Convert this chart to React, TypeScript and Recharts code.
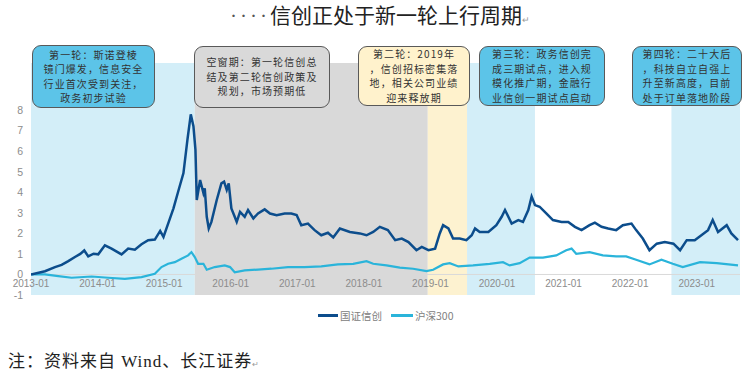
import React from 'react';
import { LineChart, Line, XAxis, YAxis, ReferenceArea, ReferenceLine } from 'recharts';

// 国证信创 (decimal year / cumulative return)
const xinDates = [
  2013.0, 2013.21, 2013.36, 2013.46, 2013.56, 2013.66, 2013.74, 2013.8, 2013.86, 2013.94,
  2014.01, 2014.11, 2014.21, 2014.36, 2014.46, 2014.56, 2014.66, 2014.76, 2014.86, 2014.94,
  2014.99, 2015.06, 2015.14, 2015.21, 2015.29, 2015.35, 2015.4, 2015.44, 2015.47, 2015.49,
  2015.54, 2015.59, 2015.61, 2015.64, 2015.67, 2015.71, 2015.79, 2015.86, 2015.9, 2015.94,
  2015.97, 2016.01, 2016.06, 2016.09, 2016.14, 2016.21, 2016.26, 2016.34, 2016.41, 2016.51,
  2016.59, 2016.69, 2016.81, 2016.91, 2016.99, 2017.06, 2017.16, 2017.26, 2017.36, 2017.46,
  2017.54, 2017.64, 2017.79, 2017.94, 2018.04, 2018.14, 2018.24, 2018.36, 2018.47, 2018.57,
  2018.67, 2018.79, 2018.87, 2018.97, 2019.07, 2019.14, 2019.19, 2019.27, 2019.34, 2019.44,
  2019.54, 2019.62, 2019.67, 2019.74, 2019.87, 2019.99, 2020.07, 2020.12, 2020.22, 2020.32,
  2020.39, 2020.47, 2020.52, 2020.57, 2020.64, 2020.74, 2020.84, 2020.97, 2021.07, 2021.17,
  2021.27, 2021.39, 2021.47, 2021.57, 2021.67, 2021.79, 2021.89, 2022.02, 2022.09, 2022.19,
  2022.29, 2022.4, 2022.52, 2022.65, 2022.75, 2022.85, 2022.97, 2023.07, 2023.17, 2023.24,
  2023.32, 2023.45, 2023.52, 2023.62,
];
const xinValues = [
  0.0, 0.16, 0.36, 0.47, 0.65, 0.85, 1.0, 1.17, 0.88, 1.01,
  0.98, 1.42, 1.26, 0.98, 1.26, 1.21, 1.47, 1.67, 1.7, 2.12,
  1.83, 2.48, 3.22, 4.03, 4.94, 6.57, 7.8, 7.22, 6.08, 3.63,
  4.6, 3.96, 4.2, 2.81, 2.24, 2.56, 3.63, 4.44, 4.52, 4.12,
  4.44, 3.22, 2.81, 2.56, 3.05, 2.81, 3.14, 2.73, 2.97, 3.17,
  2.97, 2.89, 2.97, 2.97, 2.9, 2.4, 2.48, 2.16, 1.91, 2.03,
  1.8, 2.24, 2.07, 2.0, 1.91, 2.07, 2.32, 2.16, 1.67, 1.75,
  1.58, 1.18, 1.34, 1.18, 1.26, 2.0, 2.4, 2.24, 1.75, 1.75,
  1.67, 1.91, 2.24, 2.07, 2.07, 2.4, 2.81, 3.14, 2.48, 2.65,
  2.56, 3.14, 3.79, 3.38, 3.3, 2.97, 2.65, 2.56, 2.56, 2.32,
  2.16, 2.4, 2.52, 2.32, 2.24, 2.16, 2.4, 2.48, 2.16, 1.75,
  1.18, 1.5, 1.58, 1.5, 1.18, 1.67, 1.67, 1.91, 2.16, 2.65,
  2.07, 2.4, 2.0, 1.67,
];

// 沪深300
const hsDates = [
  2013.0, 2013.21, 2013.41, 2013.61, 2013.91, 2014.16, 2014.41, 2014.66, 2014.86, 2014.96,
  2015.06, 2015.16, 2015.26, 2015.36, 2015.41, 2015.46, 2015.51, 2015.59, 2015.64, 2015.76,
  2015.91, 2015.99, 2016.06, 2016.21, 2016.41, 2016.61, 2016.86, 2017.11, 2017.36, 2017.61,
  2017.84, 2018.04, 2018.14, 2018.34, 2018.54, 2018.74, 2018.94, 2019.04, 2019.19, 2019.29,
  2019.42, 2019.64, 2019.89, 2020.09, 2020.19, 2020.34, 2020.49, 2020.69, 2020.89, 2021.04,
  2021.12, 2021.19, 2021.39, 2021.59, 2021.79, 2021.94, 2022.09, 2022.29, 2022.47, 2022.64,
  2022.79, 2023.05, 2023.3, 2023.62,
];
const hsValues = [
  0.0, 0.0, -0.08, -0.16, -0.1, -0.16, -0.21, -0.13, 0.03, 0.36,
  0.52, 0.6, 0.77, 0.93, 1.09, 0.85, 0.52, 0.52, 0.23, 0.36,
  0.44, 0.36, 0.11, 0.2, 0.24, 0.28, 0.36, 0.36, 0.39, 0.49,
  0.52, 0.65, 0.52, 0.44, 0.33, 0.28, 0.16, 0.23, 0.49, 0.55,
  0.39, 0.44, 0.52, 0.6, 0.44, 0.55, 0.82, 0.82, 0.93, 1.18,
  1.26, 1.01, 1.09, 0.93, 0.88, 0.88, 0.72, 0.49, 0.72, 0.52,
  0.36, 0.6, 0.55, 0.44,
];

const years = [2013, 2014, 2015, 2016, 2017, 2018, 2019, 2020, 2021, 2022, 2023];
const yTicks = [-1, 0, 1, 2, 3, 4, 5, 6, 7, 8];

// phases shaded behind the lines
const phaseStarts = [2013.0, 2015.46, 2018.96, 2019.55, 2022.62];
const phaseEnds = [2015.46, 2018.96, 2019.55, 2020.57, 2023.65];
const phaseNotes = [
  ['第一轮：斯诺登棱', '镜门爆发，信息安全', '行业首次受到关注，', '政务初步试验'],
  ['空窗期：第一轮信创总', '结及第二轮信创政策及', '规划，市场预期低'],
  ['第二轮：2019年', '，信创招标密集落', '地，相关公司业绩', '迎来释放期'],
  ['第三轮：政务信创完', '成三期试点，进入规', '模化推广期，金融行', '业信创一期试点启动'],
  ['第四轮：二十大后', '，科技自立自强上', '升至新高度，目前', '处于订单落地阶段'],
];

const bandColors = ['#d3eef8', '#d9d9d9', '#fdf2d0', '#d3eef8', '#d3eef8'];
const boxColors = ['#5cc4e8', '#d9d9d9', '#fff2cc', '#5cc4e8', '#5cc4e8'];
const boxPos = [
  { left: 32, top: 45, width: 123, height: 63 },
  { left: 194, top: 46, width: 136, height: 62 },
  { left: 358, top: 46, width: 112, height: 60 },
  { left: 479, top: 46, width: 126, height: 60 },
  { left: 632, top: 46, width: 110, height: 60 },
];

const DARK = '#0c4d8c';
const CYAN = '#2ab4da';
const CJK = "'Noto Sans CJK SC', 'Liberation Sans', sans-serif";

const xinData = xinDates.map((t, i) => ({ t, v: xinValues[i] }));
const hsData = hsDates.map((t, i) => ({ t, v: hsValues[i] }));

const XTick = (props: any) => {
  const { x, y, payload } = props;
  return (
    <text x={x} y={y} dy={-16} textAnchor="middle" fill="#8c8c8c" fontSize={10} fontFamily="'Liberation Sans', Arial">
      {`${payload.value}-01`}
    </text>
  );
};

const App: React.FC = () => {
  return (
    <div style={{ position: 'absolute', left: 0, top: 0, width: 750, height: 390, background: '#fff', overflow: 'hidden' }}>
      <div style={{ position: 'absolute', left: 0, top: 3, width: 760, textAlign: 'center', fontFamily: "'Liberation Serif', 'Noto Sans CJK SC', serif", fontSize: 21, lineHeight: '26px', color: '#222' }}>
        <span style={{ letterSpacing: 3, color: '#555' }}>····</span>信创正处于新一轮上行周期<span style={{ fontSize: 9, color: '#999' }}>↵</span>
      </div>

      <div style={{ position: 'absolute', left: 0, top: 0 }}>
        <LineChart width={750} height={325} margin={{ top: 63, right: 10, bottom: 0, left: 0 }}>
          {phaseStarts.map((s, i) => (
            <ReferenceArea key={i} x1={s} x2={phaseEnds[i]} y1={-1} y2={10.3} fill={bandColors[i]} fillOpacity={1} stroke="none" />
          ))}
          <ReferenceLine y={0} stroke="#d9d9d9" strokeWidth={1} />
          <XAxis
            type="number"
            dataKey="t"
            domain={[2013, 2023.65]}
            ticks={years}
            allowDataOverflow
            axisLine={false}
            tickLine={false}
            height={30}
            tick={<XTick />}
          />
          <YAxis
            type="number"
            domain={[-1, 10.3]}
            ticks={yTicks}
            allowDataOverflow
            axisLine={false}
            tickLine={false}
            width={31}
            tick={{ fill: '#8c8c8c', fontSize: 10.5, fontFamily: "'Liberation Sans', Arial" }}
          />
          <Line data={hsData} dataKey="v" type="linear" stroke={CYAN} strokeWidth={2.2} dot={false} isAnimationActive={false} />
          <Line data={xinData} dataKey="v" type="linear" stroke={DARK} strokeWidth={2.5} dot={false} isAnimationActive={false} />
        </LineChart>
      </div>

      {phaseNotes.map((lines, i) => (
        <div
          key={i}
          style={{
            position: 'absolute',
            ...boxPos[i],
            boxSizing: 'border-box',
            background: boxColors[i],
            border: '1px solid #595959',
            borderRadius: 9,
            display: 'flex',
            flexDirection: 'column',
            justifyContent: 'center',
            alignItems: 'center',
            fontFamily: CJK,
            fontSize: 10,
            letterSpacing: 1.1,
            color: '#333',
          }}
        >
          {lines.map((l, j) => (
            <div key={j} style={{ whiteSpace: 'nowrap', lineHeight: '14.5px' }}>{l}</div>
          ))}
        </div>
      ))}

      <div style={{ position: 'absolute', left: 318, top: 308, display: 'flex', alignItems: 'center', fontFamily: CJK, fontSize: 10.5, color: '#808080' }}>
        <span style={{ display: 'inline-block', width: 20, height: 3, background: DARK, marginRight: 2 }} />
        <span>国证信创</span>
        <span style={{ display: 'inline-block', width: 22, height: 3, background: CYAN, marginLeft: 9, marginRight: 2 }} />
        <span>沪深300</span>
      </div>

      <div style={{ position: 'absolute', left: 8, top: 350, fontFamily: "'Liberation Serif', 'Noto Sans CJK SC', serif", fontSize: 17, lineHeight: '24px', color: '#222', letterSpacing: 1 }}>
        注：资料来自 Wind、长江证券<span style={{ fontSize: 8, color: '#999' }}>↵</span>
      </div>
    </div>
  );
};

export default App;
